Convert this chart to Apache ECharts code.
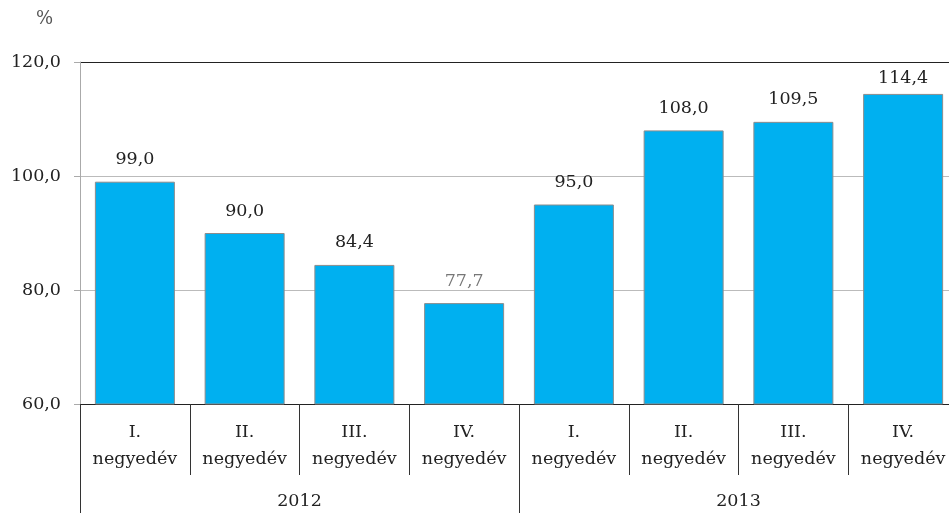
<!DOCTYPE html>
<html>
<head>
<meta charset="utf-8">
<script src="https://cdn.jsdelivr.net/npm/echarts@6/dist/echarts.min.js"></script>
<style>
  html, body { margin: 0; padding: 0; background: #fff; overflow: hidden; }
  /* the original plot runs a little past the right edge of the picture */
  #chart { width: 960px; height: 513px; }
</style>
</head>
<body>
<div id="chart"></div>
<script>
const quarters = ['I.', 'II.', 'III.', 'IV.', 'I.', 'II.', 'III.', 'IV.'];
const years = ['2012', '2013'];
const values = [99.0, 90.0, 84.4, 77.7, 95.0, 108.0, 109.5, 114.4];

const chart = echarts.init(document.getElementById('chart'));
const font = '"DejaVu Serif", "Liberation Serif", serif';
const fmt = (v) => v.toFixed(1).replace('.', ',');

// per-bar label tweaks seen in the original
const labelFix = { 3: { color: '#777' }, 7: { distance: 6 } };

const option = {
  backgroundColor: '#fff',
  textStyle: { fontFamily: font },
  animation: false,
  title: {
    text: '%',
    left: 31,
    top: 5,
    textStyle: { fontFamily: font, fontSize: 18, fontWeight: 'normal', color: '#555' }
  },
  grid: { left: 80, right: 2, top: 62, bottom: 109 },
  xAxis: [
    {
      type: 'category',
      data: quarters.map((q) => q + '\nnegyedév'),
      axisLine: { lineStyle: { color: '#222', width: 1 } },
      axisTick: { show: true, interval: 0, length: 71, lineStyle: { color: '#333' } },
      axisLabel: {
        interval: 0, margin: 15, color: '#222', fontSize: 17.5, lineHeight: 27
      }
    },
    {
      type: 'category',
      data: years,
      position: 'bottom',
      axisLine: { show: false },
      axisTick: { show: true, interval: 0, length: 109, lineStyle: { color: '#333' } },
      axisLabel: { margin: 88, color: '#222', fontSize: 17.5 }
    }
  ],
  yAxis: {
    type: 'value',
    min: 60,
    max: 120,
    interval: 20,
    axisLine: { show: true, lineStyle: { color: '#aaa' } },
    axisTick: { show: true, length: 6, lineStyle: { color: '#aaa' } },
    axisLabel: { formatter: fmt, color: '#222', fontSize: 17.5, margin: 19 },
    splitLine: { lineStyle: { color: ['#bbb', '#bbb', '#bbb', '#222'] } }
  },
  series: [
    {
      type: 'bar',
      data: values.map((v, i) => ({ value: v, label: labelFix[i] })),
      barWidth: 80,
      itemStyle: { color: '#00B0F0', borderColor: '#8c8c8c', borderWidth: 1 },
      label: {
        show: true,
        position: 'top',
        distance: 13,
        formatter: (p) => fmt(p.value),
        color: '#222',
        fontSize: 17.5
      }
    }
  ]
};

chart.setOption(option);
</script>
</body>
</html>
